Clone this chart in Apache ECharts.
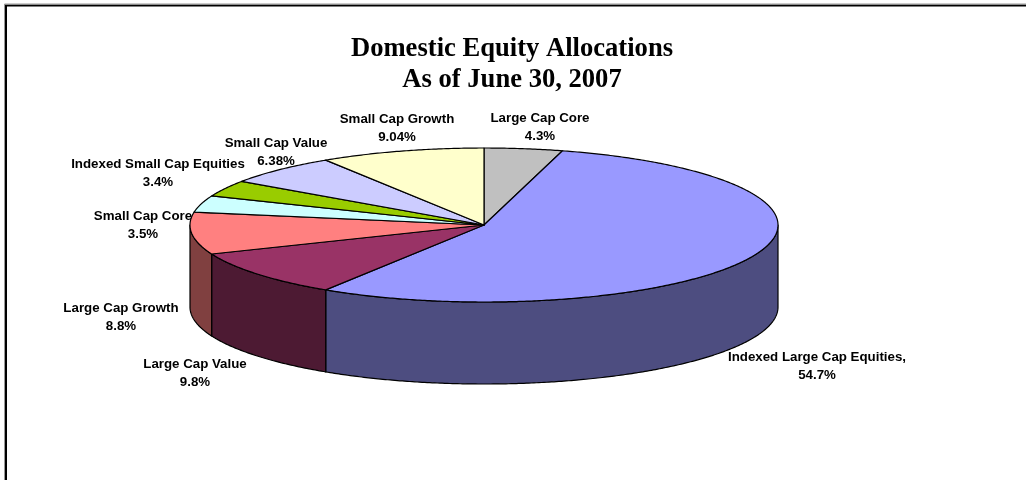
<!DOCTYPE html>
<html>
<head>
<meta charset="utf-8">
<style>
	html, body { margin: 0; padding: 0; background: #fff; }
	#chart { width: 1026px; height: 480px; }
</style>
<script src="https://cdn.jsdelivr.net/npm/echarts@6/dist/echarts.min.js"></script>
</head>
<body>
<div id="chart"></div>
<script>
	// clockwise from 12 o'clock
	var categories = ['Large Cap Core', 'Indexed Large Cap Equities,', 'Large Cap Value', 'Large Cap Growth', 'Small Cap Core', 'Indexed Small Cap Equities', 'Small Cap Value', 'Small Cap Growth']
	var values = [4.3, 54.7, 9.8, 8.8, 3.5, 3.4, 6.38, 9.04]
	var topColors = ['#C0C0C0', '#9999FF', '#993366', '#FF8080', '#CCFFFF', '#99CC00', '#CCCCFF', '#FFFFCC']
	var sideColors = ['#606060', '#4D4D80', '#4D1A33', '#804040', '#668080', '#4D6600', '#666680', '#808066']
	// label centres, placed by hand like the original
	var labelCentres = [[540, 127], [817, 366], [195, 373], [121, 317], [143, 225], [158, 173], [276, 152], [397, 128]]

	var cx = 484, cy = 225, rx = 294, ry = 77, depth = 82
	var total = values.reduce(function (a, b) { return a + b }, 0)

	function sliceAngles (index) {
		var before = 0
		for (var i = 0; i < index; i++) before += values[i]
		return [before / total * 360, (before + values[index]) / total * 360]
	}
	function arc (from, to, drop) {
		var pts = []
		var steps = Math.max(2, Math.ceil(Math.abs(to - from) * 2))
		for (var i = 0; i <= steps; i++) {
			var t = (from + (to - from) * i / steps) * Math.PI / 180
			pts.push([cx + rx * Math.sin(t), cy - ry * Math.cos(t) + drop])
		}
		return pts
	}
	var lineStyle = { stroke: '#000', lineWidth: 1.2, lineJoin: 'round' }

	function renderSide (params, api) {
		var a = sliceAngles(params.dataIndex)
		var from = Math.max(a[0], 90), to = Math.min(a[1], 270)
		if (to <= from) return null
		return {
			type: 'polygon',
			shape: { points: arc(from, to, 0).concat(arc(to, from, depth)) },
			style: Object.assign({ fill: sideColors[params.dataIndex] }, lineStyle)
		}
	}
	function renderTop (params, api) {
		var a = sliceAngles(params.dataIndex)
		return {
			type: 'polygon',
			shape: { points: [[cx, cy]].concat(arc(a[0], a[1], 0)) },
			style: Object.assign({ fill: topColors[params.dataIndex] }, lineStyle)
		}
	}
	function renderLabel (params, api) {
		var c = labelCentres[params.dataIndex]
		return {
			type: 'text',
			x: c[0],
			y: c[1],
			style: {
				text: categories[params.dataIndex] + '\n' + api.value(0) + '%',
				align: 'center',
				verticalAlign: 'middle',
				fontFamily: '"Liberation Sans", Arial, sans-serif',
				fontWeight: 'bold',
				fontSize: 13.3,
				lineHeight: 18,
				fill: '#000'
			}
		}
	}

	var chartData = values.map(function (v, i) { return { name: categories[i], value: [v] } })
	var chart = echarts.init(document.getElementById('chart'), null, { renderer: 'canvas' })
	chart.setOption({
		animation: false,
		title: {
			text: 'Domestic Equity Allocations\nAs of June 30, 2007',
			left: 507,
			top: 29,
			textAlign: 'center',
			textStyle: {
				fontFamily: '"Liberation Serif", "Times New Roman", serif',
				fontWeight: 'bold',
				fontSize: 26.6,
				lineHeight: 31,
				color: '#000'
			}
		},
		graphic: [{
			type: 'polyline',
			shape: { points: [[6, 481], [6, 5.5], [1027, 5.5]] },
			style: { stroke: '#000', lineWidth: 2, fill: null }
		}, {
			type: 'polyline',
			shape: { points: [[4.5, 481], [4.5, 4], [1027, 4]] },
			style: { stroke: '#999', lineWidth: 1, fill: null }
		}],
		series: [
			{ type: 'custom', coordinateSystem: 'none', renderItem: renderSide, data: chartData, silent: true, z: 1 },
			{ type: 'custom', coordinateSystem: 'none', renderItem: renderTop, data: chartData, silent: true, z: 2 },
			{ type: 'custom', coordinateSystem: 'none', renderItem: renderLabel, data: chartData, silent: true, z: 3 }
		]
	})
</script>
</body>
</html>
